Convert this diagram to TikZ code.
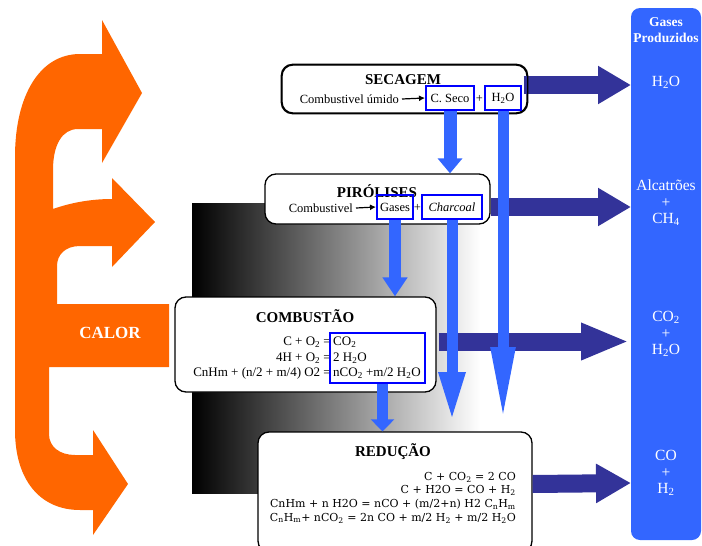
\documentclass[tikz,border=0pt]{standalone}
\usepackage{fontspec}
\setmainfont{Liberation Serif}
\newfontfamily\redfont{DejaVu Serif}
\usetikzlibrary{arrows.meta,calc}
\definecolor{orng}{HTML}{FF6600}
\definecolor{colblue}{HTML}{3366FF}
\definecolor{darkarr}{HTML}{333399}
\definecolor{boxblue}{HTML}{0000FF}
\newcommand\sbs[1]{\textsubscript{#1}}
\begin{document}
\begin{tikzpicture}[x=1pt,y=-1pt,
  box/.style={draw=black, line width=1.3pt, fill=white, rounded corners=11pt, inner sep=0pt},
  bbox/.style={draw=boxblue, line width=2pt, inner sep=0pt, minimum height=24pt},
  txt/.style={inner sep=0pt, font=\fontsize{12.5}{15}\selectfont},
  eq/.style={inner sep=0pt, font=\fontsize{13}{15.5}\selectfont},
  ttl/.style={inner sep=0pt, font=\bfseries\fontsize{15}{18}\selectfont},
  coltxt/.style={inner sep=0pt, text=white, align=center, font=\fontsize{15.5}{16.5}\selectfont},
  darr/.style={draw=darkarr, line width=18pt, -{Triangle[width=36pt,length=33pt]}},
  larr/.style={draw=colblue},
  smallarr/.style={draw=black, line width=1.2pt, -{Latex[length=6pt,width=6pt]}}
]
\useasboundingbox (0,0) rectangle (702,546);

% gradient background
\shade[left color=black, right color=white] (192,203) rectangle (480,493);

% orange heat shape
\fill[orng] (15,157) .. controls (15,95) and (40,54) .. (80,54)
  -- (102,54) -- (102,20) -- (142,93) -- (102,163) -- (102,129) -- (78,129)
  .. controls (62,129) and (53,145) .. (53,170)
  -- (53,209) .. controls (70,203) and (90,199) .. (112,199)
  -- (112,178) -- (155,222) -- (112,267) -- (112,246) -- (80,246)
  .. controls (65,246) and (57,255) .. (57,266)
  -- (57,304) -- (169,304) -- (169,367) -- (49,367) -- (49,434)
  .. controls (49,447) and (60,455) .. (75,455)
  -- (93,455) -- (93,430) -- (128,484) -- (93,535) -- (93,510) -- (80,510)
  .. controls (40,510) and (15,480) .. (15,430) -- cycle;
\node[inner sep=0pt, text=white, font=\bfseries\fontsize{17}{17}\selectfont] (calor) at (110,333) {CALOR};

% right column
\node[fill=colblue, rounded corners=9pt, minimum width=70pt, minimum height=532pt, inner sep=0pt] (col) at (666,274) {};
\node[coltxt, font=\bfseries\fontsize{13.5}{16}\selectfont] (gp) at (666,30) {Gases\\Produzidos};
\node[coltxt] (g1) at (666,82) {H\sbs{2}O};
\node[coltxt] (g2) at (666,203) {Alcatrões\\+\\CH\sbs{4}};
\node[coltxt] (g3) at (666,334) {CO\sbs{2}\\+\\H\sbs{2}O};
\node[coltxt] (g4) at (666,473) {CO\\+\\H\sbs{2}};

% boxes
\node[box, minimum width=245pt, minimum height=48pt] (sec) at (404.5,89) {};
\node[box, minimum width=225pt, minimum height=50pt] (pir) at (377.5,199) {};
\node[box, minimum width=261pt, minimum height=95pt] (comb) at (305.5,344.5) {};
\node[box, minimum width=274pt, minimum height=120pt] (red) at (395,492) {};

% dark arrows
\coordinate (e1) at (631,85);
\coordinate (e2) at (631,207);
\coordinate (e3) at (629,341.5);
\coordinate (e4) at (631,483);
\draw[darr] ([yshift=4pt]sec.east) ++(-4,0) -- (e1);
\draw[darr] ([yshift=-8pt]pir.east) -- (e2);
\draw[darr, -{Triangle[width=34pt,length=48pt]}] ([yshift=3pt,xshift=2pt]comb.east) -- (e3);
\draw[darr, -{Triangle[width=37pt,length=35pt]}] ([yshift=8pt]red.east) -- (e4);

% redraw SECAGEM border over the arrow start
\draw[black, line width=1.3pt, rounded corners=11pt] (sec.south west) rectangle (sec.north east);

% SECAGEM contents
\node[ttl] (secT) at (403,80) {SECAGEM};
\node[txt, anchor=east] (cu) at (399,99) {Combustivel úmido};
\node[bbox, minimum width=48pt] (cseco) at (450,98) {\fontsize{12.5}{15}\selectfont C. Seco};
\node[txt] (plus1) at (479.5,99) {+};
\node[bbox, minimum width=36pt] (h2o) at (503,98) {\fontsize{12.5}{15}\selectfont H\sbs{2}O};
\draw[smallarr] (cu.east) ++(3,0) -- (cseco.west);

% PIRÓLISES contents
\node[ttl] (pirT) at (377,191) {PIRÓLISES};
\node[txt, anchor=east] (cb) at (353,208) {Combustivel};
\node[bbox, minimum width=36pt] (gases) at (395,207) {\fontsize{12.5}{15}\selectfont Gases};
\node[txt] (plus2) at (417.5,208) {+};
\node[bbox, minimum width=60pt] (charc) at (452,207) {\fontsize{12.5}{15}\selectfont\itshape Charcoal};
\draw[smallarr] (cb.east) ++(3,0) -- (gases.west);

% COMBUSTÃO contents
\node[ttl] (combT) at (305,316) {COMBUSTÃO};
\node[eq, anchor=east] (c1l) at (331,342) {C + O\sbs{2} =};
\node[eq, anchor=east] (c2l) at (331,358) {4H + O\sbs{2} =};
\node[eq, anchor=east] (c3l) at (331,373.5) {CnHm + (n/2 + m/4) O2 =};
\node[eq, anchor=west] (c1r) at (333,342) {CO\sbs{2}};
\node[eq, anchor=west] (c2r) at (333,358) {2 H\sbs{2}O};
\node[eq, anchor=west] (c3r) at (333,373.5) {nCO\sbs{2} +m/2 H\sbs{2}O};
\node[draw=boxblue, line width=2pt, inner sep=0pt, minimum width=95pt, minimum height=50pt] (eqbox) at (377.5,358) {};

% REDUÇÃO contents
\node[ttl] (redT) at (393,452) {REDUÇÃO};
\node[inner sep=0pt, anchor=east, align=right, font=\redfont\fontsize{11}{13.7}\selectfont] (redeq) at (516,497.5)
  {C + CO\sbs{2} = 2 CO\\
   C + H2O = CO + H\sbs{2}\\
   CnHm + n H2O = nCO + (m/2+n) H2 C\sbs{n}H\sbs{m}\\
   C\sbs{n}H\sbs{m}+ nCO\sbs{2} = 2n CO + m/2 H\sbs{2} + m/2 H\sbs{2}O};

% light blue arrows
\coordinate (t2) at (503,423);
\coordinate (t4) at (452,422);
\draw[larr, line width=13pt, -{Triangle[width=24pt,length=15pt]}] (cseco.south) -- (cseco.south |- pir.north);
\draw[larr, line width=11pt, -{Triangle[width=22pt,length=76pt]}] (h2o.south) -- (t2);
\draw[larr, line width=12pt, -{Triangle[width=24pt,length=19pt]}] (gases.south) -- (gases.south |- comb.north);
\draw[larr, line width=11pt, -{Triangle[width=24pt,length=50pt]}] (charc.south) -- (t4);
\draw[larr, line width=11pt, -{Triangle[width=23pt,length=12pt]}] ([xshift=5pt]eqbox.south) -- ([xshift=5pt]eqbox.south |- red.north);
\end{tikzpicture}
\end{document}
